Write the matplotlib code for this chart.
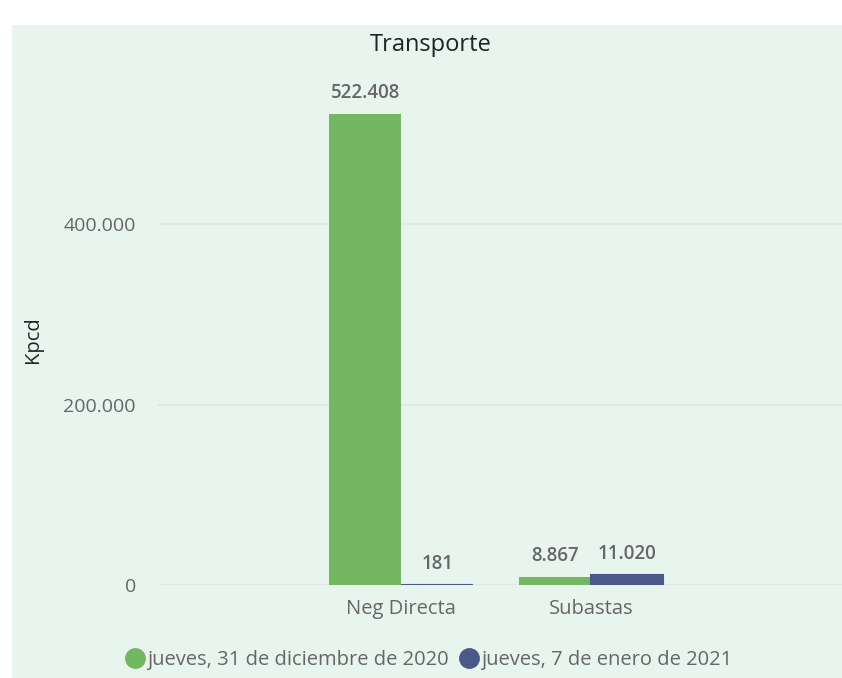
import matplotlib
matplotlib.use("Agg")
import matplotlib.pyplot as plt
from matplotlib.patches import Rectangle
from matplotlib.lines import Line2D
import numpy as np

categories = ["Neg Directa", "Subastas"]
series_names = ["jueves, 31 de diciembre de 2020", "jueves, 7 de enero de 2021"]
values_dic31 = [522408, 8867]
values_ene07 = [181, 11020]
yticks = [0, 200000, 400000]
ytick_labels = ["0", "200.000", "400.000"]

GREEN = "#73B761"
BLUE = "#4A588A"
PANEL = "#E7F5EE"
GRAY = "#666666"


def fmt_es(v):
    return f"{v:,.0f}".replace(",", ".")


plt.rcParams["font.family"] = ["Open Sans", "DejaVu Sans"]

fig = plt.figure(figsize=(8.42, 6.78), dpi=100)
fig.patches.append(Rectangle((12 / 842, 0), 1, 1 - 25 / 678, transform=fig.transFigure,
                             facecolor=PANEL, edgecolor="none", zorder=-10))

ax = fig.add_axes([158 / 842, 1 - 585 / 678, 1 - 158 / 842, (585 - 71) / 678])
ax.set_facecolor("none")

x = np.arange(len(categories))
w = 0.38
b1 = ax.bar(x - w / 2, values_dic31, w, color=GREEN, zorder=3)
b2 = ax.bar(x + w / 2, values_ene07, w, color=BLUE, edgecolor=BLUE, linewidth=1.5, zorder=3)

for bars, vals in ((b1, values_dic31), (b2, values_ene07)):
    for rect, v in zip(bars, vals):
        ax.annotate(fmt_es(v), (rect.get_x() + rect.get_width() / 2, rect.get_height()),
                    xytext=(0, 8), textcoords="offset points", ha="center", va="bottom",
                    fontsize=13.5, color=GRAY, fontweight="semibold")

ax.set_xlim(-1.28, 2.32)
ax.set_ylim(0, 570000)
ax.set_yticks(yticks)
ax.set_yticklabels(ytick_labels)
ax.set_xticks(x)
ax.set_xticklabels(categories)
ax.tick_params(axis="both", length=0, labelcolor=GRAY)
ax.tick_params(axis="y", pad=16, labelsize=14)
ax.tick_params(axis="x", pad=10, labelsize=14.5)
ax.grid(axis="y", color="#E4E4E4", linewidth=1.2, zorder=0)
for s in ax.spines.values():
    s.set_visible(False)

fig.text(33 / 842, 1 - 340 / 678, "Kpcd", rotation=90, ha="center", va="center",
         fontsize=14.5, color="#222222")
fig.text(431 / 842, 1 - 45 / 678, "Transporte", ha="center", va="center",
         fontsize=17, color="#222222")

handles = [Line2D([], [], marker="o", linestyle="", markersize=14, color=c)
           for c in (GREEN, BLUE)]
fig.legend(handles, series_names, loc="center", bbox_to_anchor=(428 / 842, 1 - 660 / 678),
           ncol=2, frameon=False, fontsize=14.5, labelcolor=GRAY,
           handletextpad=0.0, columnspacing=0.4, handlelength=1.2)

fig.savefig("out.png", dpi=100, facecolor="white")
